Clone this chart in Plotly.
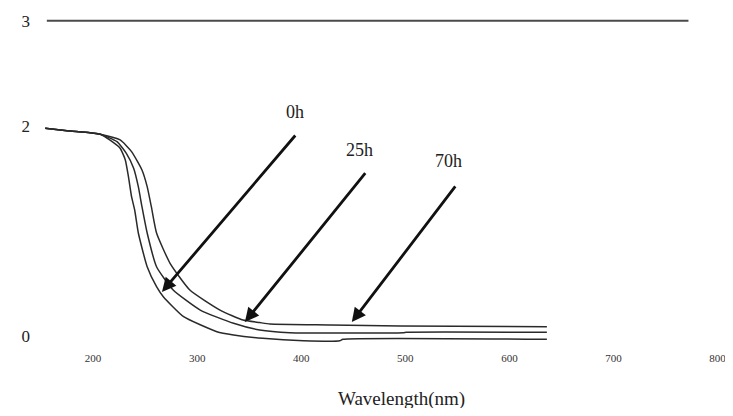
import plotly.graph_objects as go

# ---- data (wavelength in nm, absorbance) ----
wl_0h = [154, 175, 197, 207, 216, 226, 231, 234, 237, 240, 243.5, 252, 261, 267.5, 287, 319, 335, 363, 402, 437, 440, 636]
abs_0h = [1.976, 1.953, 1.934, 1.919, 1.865, 1.786, 1.675, 1.516, 1.325, 1.199, 0.980, 0.659, 0.469, 0.374, 0.184, 0.041, 0.010, -0.022, -0.045, -0.045, -0.031, -0.031]

wl_25h = [154, 175, 197, 207, 223, 232, 239, 243.5, 247, 252, 261, 277, 303, 335, 360, 389, 498, 501, 636]
abs_25h = [1.976, 1.953, 1.934, 1.919, 1.849, 1.738, 1.596, 1.421, 1.230, 0.980, 0.659, 0.438, 0.247, 0.121, 0.057, 0.031, 0.031, 0.035, 0.035]

wl_70h = [154, 175, 197, 207, 226, 237, 247, 252, 256, 261, 274, 293, 322, 344, 360, 370, 428, 495, 636]
abs_70h = [1.976, 1.953, 1.934, 1.919, 1.865, 1.754, 1.579, 1.421, 1.230, 0.980, 0.692, 0.438, 0.247, 0.152, 0.128, 0.114, 0.105, 0.095, 0.088]

x_ticks = [200, 300, 400, 500, 600, 700, 800]
y_ticks = [0, 2, 3]

labels = ["0h", "25h", "70h"]
label_wl = [394, 456, 541]
label_abs = [2.134, 1.770, 1.665]
arrow_tail_wl = [395.5, 462.7, 549.1]
arrow_tail_abs = [1.922, 1.563, 1.437]
arrow_tip_wl = [266.2, 345.9, 448.6]
arrow_tip_abs = [0.419, 0.133, 0.133]

top_line_wl = [155.6, 772]
top_line_abs = 3

SERIF = "Liberation Serif, Times New Roman, serif"

# The page body has an 8px margin, so the figure is sized/offset to compensate.
W, H = 725, 400
ML, MR, MT, MB = 33, 5, 7, 58
PLOT_H = H - MT - MB

fig = go.Figure()
for wl, ab, name in [(wl_0h, abs_0h, "0h"), (wl_25h, abs_25h, "25h"), (wl_70h, abs_70h, "70h")]:
    fig.add_trace(go.Scatter(x=wl, y=ab, mode="lines", name=name,
                             line=dict(color="#2a2a2a", width=1.5, shape="spline", smoothing=0.5),
                             showlegend=False, hoverinfo="skip"))

fig.add_shape(type="line", xref="x", yref="y",
              x0=top_line_wl[0], x1=top_line_wl[1], y0=top_line_abs, y1=top_line_abs,
              line=dict(color="#4a4a4a", width=2))

for i, lab in enumerate(labels):
    fig.add_annotation(x=arrow_tip_wl[i], y=arrow_tip_abs[i], ax=arrow_tail_wl[i], ay=arrow_tail_abs[i],
                       xref="x", yref="y", axref="x", ayref="y", text="", showarrow=True,
                       arrowhead=2, arrowsize=1.0, arrowwidth=2.8, arrowcolor="#111")
    fig.add_annotation(x=label_wl[i], y=label_abs[i], xref="x", yref="y", text=lab, showarrow=False,
                       font=dict(family=SERIF, size=18, color="#222"))

# x-axis title placed at page pixel (401, 399); plot bottom is at page pixel 350
fig.add_annotation(x=(401 - 8 - ML) / (W - ML - MR), y=-(399 - 350) / PLOT_H,
                   xref="paper", yref="paper", text="Wavelength(nm)", showarrow=False,
                   xanchor="center", yanchor="middle",
                   font=dict(family=SERIF, size=19, color="#222"))

fig.update_layout(
    width=W, height=H,
    margin=dict(l=ML, r=MR, t=MT, b=MB),
    paper_bgcolor="white", plot_bgcolor="white",
    xaxis=dict(range=[150, 810], tickvals=x_ticks, ticktext=[str(v) for v in x_ticks],
               showgrid=False, zeroline=False, showline=False, automargin=False,
               ticklabeloverflow="allow",
               tickfont=dict(family=SERIF, size=11, color="#333")),
    yaxis=dict(range=[-0.1332, 3.054], tickvals=y_ticks, ticktext=[str(v) for v in y_ticks],
               showgrid=False, zeroline=False, showline=False, ticklabelstandoff=10, automargin=False,
               tickfont=dict(family=SERIF, size=17, color="#222")),
)

fig.write_html("out.html")
